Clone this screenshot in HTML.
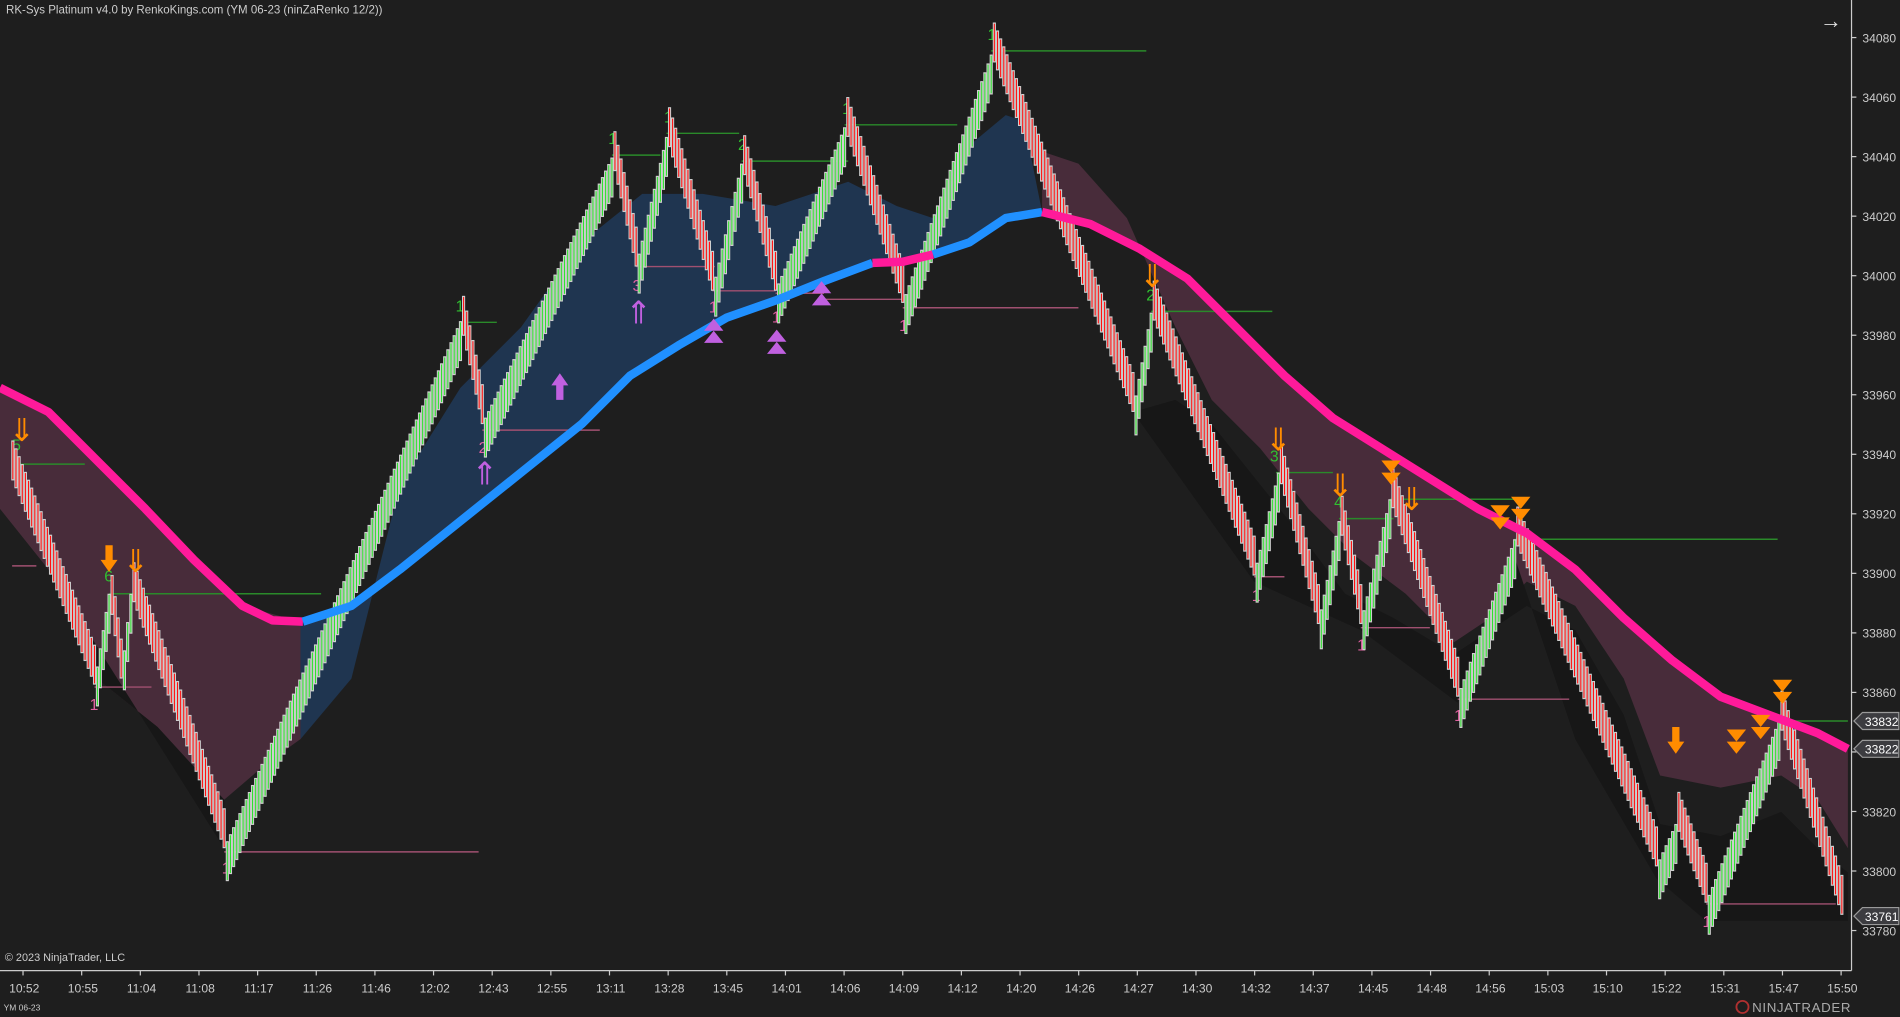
<!DOCTYPE html>
<html><head><meta charset="utf-8"><style>
html,body{margin:0;padding:0;background:#1e1e1e;overflow:hidden;}
svg{display:block;font-family:"Liberation Sans",sans-serif;}
</style></head><body>
<svg id="s" width="1900" height="1017" viewBox="0 0 1568 839.3" preserveAspectRatio="none" xmlns="http://www.w3.org/2000/svg">
<rect width="1568" height="840" fill="#1e1e1e"/>
<g id="bands"></g>
<g id="levels"></g>
<g id="bars"></g>
<g id="ma"></g>
<g id="marks"></g>
<g id="axes"></g>
</svg>
<script>
const NS="http://www.w3.org/2000/svg";
function el(p,t,a,txt){const e=document.createElementNS(NS,t);for(const k in a)e.setAttribute(k,a[k]);if(txt!==undefined)e.textContent=txt;document.getElementById(p).appendChild(e);return e;}
el("bands","polygon",{fill:"#482c3a",points:"0,320 40,340 80,380 120,420 160,462 200,500 248,513 248,610 220,630 185,660 130,600 80,560 40,470 0,420"});
el("bands","polygon",{fill:"#1f3550",points:"248,513 290,500 330,470 380,430 430,390 480,350 520,310 560,285 600,262 640,248 680,232 720,217 760,215 800,200 830,180 860,175 845,100 830,95 800,120 770,180 740,170 700,150 640,170 580,160 530,160 480,200 430,270 380,320 330,400 290,560 248,610"});
el("bands","polygon",{fill:"#482c3a",points:"860,175 900,185 940,205 980,230 1020,270 1060,310 1100,345 1140,370 1180,395 1220,420 1260,440 1300,470 1340,510 1380,545 1420,575 1460,590 1500,605 1525,618 1525,700 1500,660 1470,640 1420,650 1370,640 1340,560 1300,500 1260,480 1230,510 1200,530 1160,490 1120,460 1080,420 1040,370 1000,330 970,270 930,180 890,135 860,125"});
el("bands","polygon",{fill:"#171717",points:"935,340 970,330 1000,350 1040,400 1080,450 1110,490 1150,510 1200,540 1260,500 1300,520 1340,590 1370,680 1420,690 1470,670 1500,700 1525,720 1525,760 1408,760 1367,725 1300,610 1250,460 1203,580 1123,520 1035,480"});
el("bands","polygon",{fill:"#171717",points:"40,470 80,560 130,600 185,660 185,700 100,565"});
const G="#2a8a2a",P="#a05070";
const lv=[[G,383,15,70,"5",10,372],[G,490,90,265,"6",86,480],[G,266,380,410,"1",376,257],[G,128,505,545,"1",502,119],[G,110,550,610,"1",548,101],[G,133,612,700,"2",609,124],[G,103,697,790,"1",695,94],[G,42,818,946,"1",815,33],[G,257,950,1050,"2",946,248],[G,390,1053,1100,"3",1048,381],[G,428,1105,1150,"4",1101,419],[G,412,1147,1250,"",0,0],[G,445,1250,1467,"",0,0],[G,595,1468,1525,"",0,0],
[P,467,10,30,"",0,0],[P,567,78,125,"1",74,586],[P,703,185,395,"1",183,721],[P,355,398,495,"2",395,374],[P,220,525,590,"3",522,240],[P,240,588,640,"1",585,258],[P,242,640,680,"1",637,266],[P,247,680,745,"",0,0],[P,254,745,890,"1",742,273],[P,476,1035,1060,"1",1033,496],[P,518,1123,1180,"1",1120,537],[P,577,1203,1295,"1",1200,595],[P,746,1408,1515,"1",1405,765]];
lv.forEach(l=>{el("levels","line",{x1:l[2],x2:l[3],y1:l[1],y2:l[1],stroke:l[0],"stroke-width":1.2});if(l[4])el("levels","text",{x:l[5],y:l[6],fill:l[0]==G?"#30c030":"#e060a0","font-size":13},l[4]);});
const piv=[[8,390],[78,565],[90,490],[100,560],[108,490],[185,700],[380,265],[398,350],[505,130],[525,220],[550,113],[588,240],[612,135],[640,240],[697,105],[745,250],[818,45],[935,340],[950,258],[1035,475],[1055,390],[1088,515],[1105,430],[1123,515],[1147,412],[1203,575],[1250,445],[1367,715],[1383,680],[1408,745],[1468,595],[1520,755]];
for(let i=0;i<piv.length-1;i++){const [x0,y0]=piv[i],[x1,y1]=piv[i+1];const n=Math.max(1,Math.round((x1-x0)/2.6));const up=y1<y0;
for(let k=1;k<=n;k++){const x=x0+(x1-x0)*k/n,y=y0+(y1-y0)*k/n;const top=up?y:y-33;
el("bars","rect",{x:x-1.3,y:top,width:2.6,height:33,fill:"#cfcfcf"});
el("bars","rect",{x:x-0.45,y:top+1,width:0.9,height:31,fill:up?"#30e030":"#ff1010"});}}
function ma(pts,c){el("ma","polyline",{points:pts,fill:"none",stroke:c,"stroke-width":7,"stroke-linejoin":"round"});}
ma("0,320 40,340 80,380 120,420 160,462 200,500 225,512 250,513","#ff1a9a");
ma("250,513 290,500 330,470 380,430 430,390 480,350 520,310 560,285 600,262 640,248 680,232 720,217","#2090ff");
ma("720,217 745,216 770,210","#ff1a9a");
ma("770,210 800,200 830,180 860,175","#2090ff");
ma("860,175 900,185 940,205 980,230 1020,270 1060,310 1100,345 1140,370 1180,395 1220,420 1260,440 1300,470 1340,510 1380,545 1420,575 1460,590 1500,605 1525,618","#ff1a9a");
const O="#ff8c00",V="#c060e0";
[[18,357,"⇓",O,26],[112,465,"⇓",O,26],[951,230,"⇓",O,26],[1055,365,"⇓",O,26],[1106,403,"⇓",O,26],[1165,414,"⇓",O,26],[527,260,"⇑",V,26],[400,393,"⇑",V,26]].forEach(m=>el("marks","text",{x:m[0],y:m[1],fill:m[3],"font-size":m[4],"text-anchor":"middle","dominant-baseline":"middle"},m[2]));
function solid(x,y,c,dn){const d=dn?1:-1;el("marks","polygon",{fill:c,points:`${x-3},${y-12*d} ${x+3},${y-12*d} ${x+3},${y} ${x+7},${y} ${x},${y+10*d} ${x-7},${y} ${x-3},${y}`});}
solid(90,462,O,1);solid(1383,612,O,1);solid(462,318,V,0);
function dbl(x,y,c,dn){const d=dn?1:-1;for(const o of [0,10])el("marks","polygon",{fill:c,points:`${x-8},${y+o*d-5*d} ${x+8},${y+o*d-5*d} ${x},${y+o*d+5*d}`});}
[[1148,385],[1255,415],[1238,422],[1433,607],[1453,595],[1471,566]].forEach(p=>dbl(p[0],p[1],O,1));
[[589,278],[641,287],[678,247]].forEach(p=>dbl(p[0],p[1],V,0));
el("axes","line",{x1:1528,x2:1528,y1:0,y2:801,stroke:"#cccccc","stroke-width":1});
el("axes","line",{x1:0,x2:1528,y1:801,y2:801,stroke:"#cccccc","stroke-width":1});
for(let i=0;i<16;i++){const y=31+i*49.13;el("axes","line",{x1:1528,x2:1532,y1:y,y2:y,stroke:"#ccc"});el("axes","text",{x:1537,y:y+4,fill:"#cccccc","font-size":10},34080-i*20);}
const tl="10:52 10:55 11:04 11:08 11:17 11:26 11:46 12:02 12:43 12:55 13:11 13:28 13:45 14:01 14:06 14:09 14:12 14:20 14:26 14:27 14:30 14:32 14:37 14:45 14:48 14:56 15:03 15:10 15:22 15:31 15:47 15:50".split(" ");
tl.forEach((t,i)=>{const x=19+i*48.4;el("axes","line",{x1:x,x2:x,y1:801,y2:805,stroke:"#ccc"});el("axes","text",{x:x+1,y:819,fill:"#cccccc","font-size":10,"text-anchor":"middle"},t);});
[[595,"33832"],[618,"33822"],[756,"33761"]].forEach(p=>{el("axes","polygon",{points:`1530,${p[0]} 1537,${p[0]-7} 1567,${p[0]-7} 1567,${p[0]+7} 1537,${p[0]+7}`,fill:"#3c3c40",stroke:"#9a9a9a"});el("axes","text",{x:1539,y:p[0]+4,fill:"#ffffff","font-size":10},p[1]);});
el("axes","text",{x:5,y:11,fill:"#cccccc","font-size":9.5},"RK-Sys Platinum v4.0 by RenkoKings.com (YM 06-23 (ninZaRenko 12/2))");
el("axes","text",{x:4,y:793,fill:"#cccccc","font-size":9},"© 2023 NinjaTrader, LLC");
el("axes","text",{x:3,y:834,fill:"#cccccc","font-size":7},"YM 06-23");
el("axes","text",{x:1502,y:23,fill:"#e0e0e0","font-size":18},"→");
el("axes","circle",{cx:1438,cy:831,r:5,fill:"none",stroke:"#b03030","stroke-width":1.5});
el("axes","text",{x:1446,y:835,fill:"#aaaaaa","font-size":11,"letter-spacing":"0.5"},"NINJATRADER");
</script>
</body></html>
